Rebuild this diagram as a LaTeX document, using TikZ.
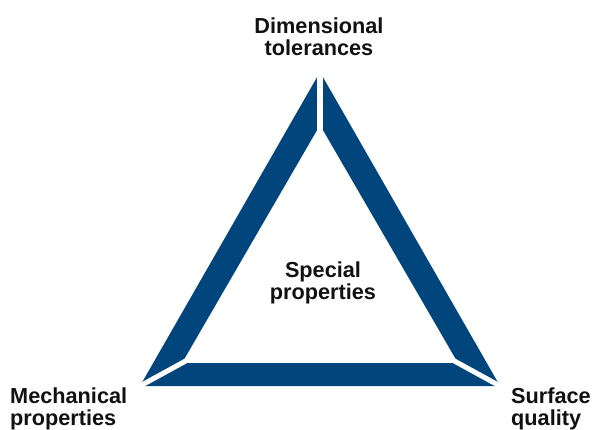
\documentclass[tikz,border=0pt]{standalone}
\usepackage{fontspec}
\setmainfont{Liberation Sans}
\usetikzlibrary{calc}
\definecolor{barblue}{RGB}{0,69,124}
\definecolor{labelgray}{RGB}{17,17,17}

\begin{document}
\begin{tikzpicture}[
  x=1pt,y=-1pt,
  every node/.style={inner sep=0pt,text=labelgray,
    font=\fontsize{21.7}{22}\selectfont\bfseries},
  bar/.style={fill=barblue,even odd rule},
  gap/.style={draw=white,line width=5pt},
  ]
  \useasboundingbox (0,0) rectangle (596,430);
  % corners of the frame
  \coordinate(outer-top) at (320,72);
  \coordinate(outer-left) at (140,386);
  \coordinate(outer-right) at (500,386);
  \coordinate(inner-top) at (320,125);
  \coordinate(inner-left) at (182,363);
  \coordinate(inner-right) at (458,363);
  \fill[bar] (outer-top) -- (outer-left) -- (outer-right) -- cycle
    (inner-top) -- (inner-left) -- (inner-right) -- cycle;
  % cut the frame into three bars
  \draw[gap,line width=6.5pt] ($(outer-top)!-0.3!(inner-top)$) -- ($(outer-top)!1.2!(inner-top)$);
  \draw[gap] ($(outer-left)!-0.25!(inner-left)$) -- ($(outer-left)!1.2!(inner-left)$);
  \draw[gap] ($(outer-right)!-0.25!(inner-right)$) -- ($(outer-right)!1.2!(inner-right)$);
  \node(dim)[anchor=north,align=center] at (319,18) {Dimensional\\tolerances};
  \node(spec)[anchor=north,align=center] at (323,262) {Special\\properties};
  \node(mech)[anchor=north west,align=left] at (10,388) {Mechanical\\properties};
  \node(surf)[anchor=north west,align=left] at (511,388) {Surface\\quality};
\end{tikzpicture}
\end{document}
